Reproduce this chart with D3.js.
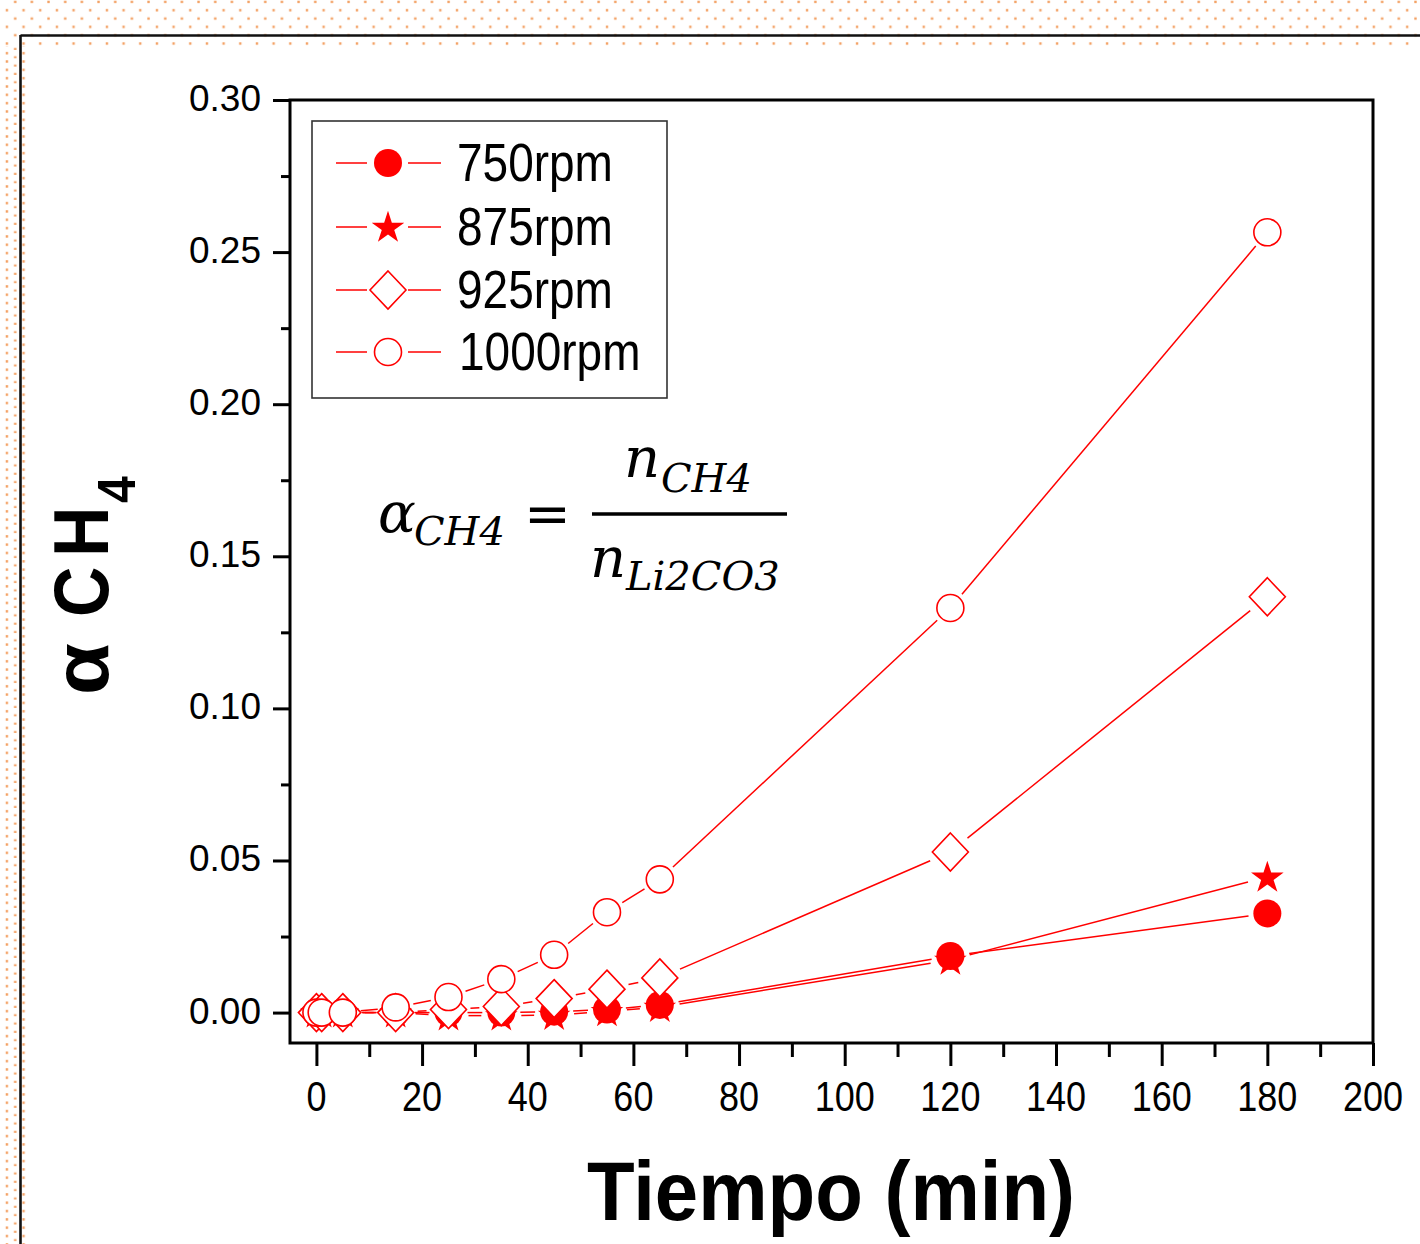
<!DOCTYPE html>
<html><head><meta charset="utf-8">
<script src="https://cdn.jsdelivr.net/npm/d3@7"></script>
<style>body{margin:0;background:#fff;overflow:hidden}</style>
</head><body>
<svg id="chart" width="1420" height="1244" xmlns="http://www.w3.org/2000/svg"></svg>
<script>
// ---------- data ----------
const times = [0, 1, 5, 15, 25, 35, 45, 55, 65, 120, 180];
const series750  = [0, 0, 0, 0, 0, 0, 0.0003, 0.001, 0.0025, 0.0186, 0.0326];
const series875  = [0, 0, 0, 0, -0.001, -0.001, -0.0008, 0.0004, 0.0018, 0.0173, 0.0446];
const series925  = [0, 0, 0, 0, 0.001, 0.002, 0.0046, 0.0077, 0.0114, 0.0528, 0.1367];
const series1000 = [0, 0, 0, 0.0017, 0.0051, 0.011, 0.019, 0.033, 0.0438, 0.133, 0.2565];
const seriesNames = ["750rpm", "875rpm", "925rpm", "1000rpm"];
const xTicks = [0, 20, 40, 60, 80, 100, 120, 140, 160, 180, 200];
const xMinor = [10, 30, 50, 70, 90, 110, 130, 150, 170, 190];
const yTicks = [0, 0.05, 0.10, 0.15, 0.20, 0.25, 0.30];
const yMinor = [0.025, 0.075, 0.125, 0.175, 0.225, 0.275];
const xTitle = "Tiempo (min)";

(function () {
// ---------- setup ----------
const svg = d3.select("#chart");
const W = 1420, H = 1244;
const pLeft = 290, pRight = 1373, pTop = 100, pBottom = 1043;
const x = d3.scaleLinear().domain([-5, 200]).range([pLeft, pRight]);
const y = d3.scaleLinear().domain([-0.01, 0.30]).range([pBottom, pTop]);
const RED = "#ff0000";

svg.append("rect").attr("width", W).attr("height", H).attr("fill", "#fff");

// dotted decorative border
const defs = svg.append("defs");
const DOT = "#f3a062";
const p1 = defs.append("pattern").attr("id", "dotsTop").attr("patternUnits", "userSpaceOnUse")
  .attr("width", 16.67).attr("height", 16.67);
p1.append("rect").attr("x", 14).attr("y", 0.7).attr("width", 2.4).attr("height", 2.4).attr("fill", DOT);
p1.append("rect").attr("x", 5.7).attr("y", 9).attr("width", 2.4).attr("height", 2.4).attr("fill", DOT);
const p2 = defs.append("pattern").attr("id", "dotsLeft").attr("patternUnits", "userSpaceOnUse")
  .attr("width", 16.67).attr("height", 8.33);
p2.append("rect").attr("x", 5.7).attr("y", 2).attr("width", 2.4).attr("height", 2.4).attr("fill", DOT);
p2.append("rect").attr("x", 14).attr("y", 6.2).attr("width", 2.4).attr("height", 2.4).attr("fill", DOT);
svg.append("rect").attr("x", 0).attr("y", 0).attr("width", W).attr("height", 46).attr("fill", "url(#dotsTop)");
svg.append("rect").attr("x", 0).attr("y", 46).attr("width", 26).attr("height", H - 46).attr("fill", "url(#dotsLeft)");
svg.append("line").attr("x1", 20.5).attr("x2", W).attr("y1", 35.5).attr("y2", 35.5).attr("stroke", "#111").attr("stroke-width", 2.6);
svg.append("line").attr("x1", 20.5).attr("x2", 20.5).attr("y1", 35).attr("y2", H).attr("stroke", "#111").attr("stroke-width", 2.6);

// ---------- axes ----------
const styleAxis = g => {
  g.select(".domain").remove();
  g.selectAll(".tick line").attr("stroke", "#000").attr("stroke-width", 3);
};
svg.append("g").attr("transform", `translate(0,${pBottom})`)
  .call(d3.axisBottom(x).tickValues(xTicks).tickSize(23).tickFormat("")).call(styleAxis);
svg.append("g").attr("transform", `translate(0,${pBottom})`)
  .call(d3.axisBottom(x).tickValues(xMinor).tickSize(14).tickFormat("")).call(styleAxis);
svg.append("g").attr("transform", `translate(${pLeft},0)`)
  .call(d3.axisLeft(y).tickValues(yTicks).tickSize(17).tickFormat("")).call(styleAxis);
svg.append("g").attr("transform", `translate(${pLeft},0)`)
  .call(d3.axisLeft(y).tickValues(yMinor).tickSize(9).tickFormat("")).call(styleAxis);

const fmtY = d3.format(".2f");
svg.append("g").selectAll("text").data(yTicks).join("text")
  .attr("x", 261).attr("y", d => y(d) + 11)
  .attr("text-anchor", "end").attr("font-family", "Liberation Sans, Arial, sans-serif")
  .attr("font-size", 37).attr("fill", "#000").text(d => fmtY(d));
svg.append("g").selectAll("text").data(xTicks).join("text")
  .attr("transform", d => `translate(${x(d)},1111) scale(1,1.2)`)
  .attr("text-anchor", "middle").attr("font-family", "Liberation Sans, Arial, sans-serif")
  .attr("font-size", 36).attr("fill", "#000").text(d => d);

// frame
svg.append("rect").attr("x", pLeft).attr("y", pTop).attr("width", pRight - pLeft).attr("height", pBottom - pTop)
  .attr("fill", "none").attr("stroke", "#000").attr("stroke-width", 3);

// ---------- marker drawing ----------
const starPath = d3.symbol().type(d3.symbolStar).size(330)();
function drawMarker(g, kind, cx, cy) {
  if (kind === "filled") {
    g.append("circle").attr("cx", cx).attr("cy", cy).attr("r", 14).attr("fill", RED);
  } else if (kind === "star") {
    g.append("path").attr("d", starPath).attr("transform", `translate(${cx},${cy + 1})`).attr("fill", RED);
  } else if (kind === "diamond") {
    const a = 18, b = 19;
    g.append("path").attr("d", `M${cx},${cy - b}L${cx + a},${cy}L${cx},${cy + b}L${cx - a},${cy}Z`)
      .attr("fill", "#fff").attr("stroke", RED).attr("stroke-width", 1.6);
  } else {
    g.append("circle").attr("cx", cx).attr("cy", cy).attr("r", 13.5)
      .attr("fill", "#fff").attr("stroke", RED).attr("stroke-width", 1.6);
  }
}

const seriesList = [
  {name: seriesNames[0], values: series750, kind: "filled", gap: 19},
  {name: seriesNames[1], values: series875, kind: "star", gap: 20},
  {name: seriesNames[2], values: series925, kind: "diamond", gap: 22},
  {name: seriesNames[3], values: series1000, kind: "open", gap: 18}
];

const plot = svg.append("g");
seriesList.forEach(s => {
  const pts = times.map((t, i) => [x(t), y(s.values[i])]);
  const lg = plot.append("g");
  for (let i = 0; i < pts.length - 1; i++) {
    const [x1, y1] = pts[i], [x2, y2] = pts[i + 1];
    const dx = x2 - x1, dy = y2 - y1, d = Math.hypot(dx, dy);
    if (d <= 2 * s.gap) continue;
    const ux = dx / d, uy = dy / d;
    lg.append("line")
      .attr("x1", x1 + ux * s.gap).attr("y1", y1 + uy * s.gap)
      .attr("x2", x2 - ux * s.gap).attr("y2", y2 - uy * s.gap)
      .attr("stroke", RED).attr("stroke-width", 1.5);
  }
  const mg = plot.append("g");
  pts.forEach(([cx, cy]) => drawMarker(mg, s.kind, cx, cy));
});

// ---------- legend ----------
const legend = svg.append("g");
legend.append("rect").attr("x", 312).attr("y", 121).attr("width", 355).attr("height", 277)
  .attr("fill", "#fff").attr("stroke", "#333").attr("stroke-width", 1.6);
const rowsY = [163, 227, 290, 352];
seriesList.forEach((s, i) => {
  const cy = rowsY[i];
  legend.append("line").attr("x1", 336).attr("x2", 367).attr("y1", cy).attr("y2", cy).attr("stroke", RED).attr("stroke-width", 1.5);
  legend.append("line").attr("x1", 408).attr("x2", 441).attr("y1", cy).attr("y2", cy).attr("stroke", RED).attr("stroke-width", 1.5);
  drawMarker(legend, s.kind, 388, cy);
  legend.append("text").attr("transform", `translate(${i === 3 ? 459 : 457},${cy + 18}) scale(1,1.18)`)
    .attr("font-family", "Liberation Sans, Arial, sans-serif").attr("font-size", 46).attr("fill", "#000")
    .text(s.name);
});

// ---------- formula annotation ----------
const f = svg.append("g").attr("font-family", "DejaVu Serif, serif").attr("fill", "#000");
f.append("text").attr("x", 378).attr("y", 532).attr("font-size", 56).attr("font-style", "italic").text("α");
f.append("text").attr("x", 414).attr("y", 545).attr("font-size", 40).attr("font-style", "italic").text("CH4");
f.append("text").attr("x", 524).attr("y", 533).attr("font-size", 56).text("=");
f.append("line").attr("x1", 592).attr("x2", 787).attr("y1", 514).attr("y2", 514).attr("stroke", "#000").attr("stroke-width", 3.5);
f.append("text").attr("x", 624).attr("y", 477).attr("font-size", 56).attr("font-style", "italic").text("n");
f.append("text").attr("x", 661).attr("y", 492).attr("font-size", 40).attr("font-style", "italic").text("CH4");
f.append("text").attr("x", 590).attr("y", 577).attr("font-size", 56).attr("font-style", "italic").text("n");
f.append("text").attr("x", 626).attr("y", 590).attr("font-size", 40).attr("font-style", "italic").text("Li2CO3");

// ---------- axis titles ----------
svg.append("text").attr("transform", `translate(831,1220) scale(1,1.07)`)
  .attr("text-anchor", "middle").attr("font-family", "Liberation Sans, Arial, sans-serif")
  .attr("font-weight", "bold").attr("font-size", 78).attr("fill", "#000").text(xTitle);

const yt = svg.append("g").attr("transform", "translate(108,695) rotate(-90) scale(1,1.1)")
  .attr("font-family", "Liberation Sans, Arial, sans-serif").attr("font-weight", "bold").attr("fill", "#000");
yt.append("text").attr("x", 0).attr("y", 0).attr("font-size", 70).attr("textLength", 52).attr("lengthAdjust", "spacingAndGlyphs").text("α");
yt.append("text").attr("x", 78).attr("y", 0).attr("font-size", 70).text("C");
yt.append("text").attr("x", 138).attr("y", 0).attr("font-size", 70).text("H");
yt.append("text").attr("x", 192).attr("y", 24.5).attr("font-size", 48).text("4");
})();
</script>
</body></html>
